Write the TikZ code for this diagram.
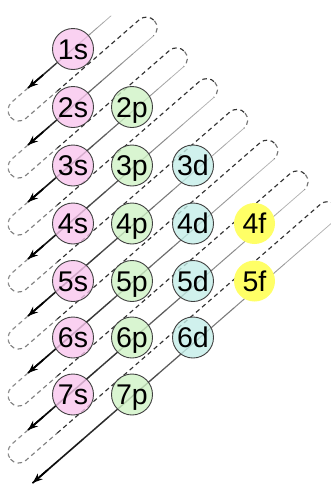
\documentclass[tikz,border=0pt]{standalone}
\usepackage{fontspec}
\setmainfont{Liberation Sans}
\usetikzlibrary{arrows.meta}
\definecolor{sfill}{RGB}{249,198,238}
\definecolor{pfill}{RGB}{208,243,198}
\definecolor{dfill}{RGB}{196,238,232}
\definecolor{ffill}{RGB}{255,255,102}
\begin{document}
\begin{tikzpicture}[x=1pt,y=-1pt,
  orb/.style={circle, draw=black!75, line width=0.9pt, minimum size=41pt, inner sep=0pt,
    font=\fontsize{28.5}{28.5}\selectfont, text height=20.4pt, text depth=0pt, text opacity=1},
  sorb/.style={orb, fill=sfill, fill opacity=0.8},
  porb/.style={orb, fill=pfill, fill opacity=0.8},
  dorb/.style={orb, fill=dfill, fill opacity=0.8},
  forb/.style={orb, draw=none, fill=ffill},
  dashline/.style={line width=1.15pt, dash pattern=on 4.5pt off 3.5pt, rounded corners=10.75pt},
  tiparrow/.style={black, line width=1.7pt, -{Stealth[length=10pt,width=7.5pt]}}
]
\useasboundingbox (0,0) rectangle (331,485);

% diagonal arrows and dashed return paths
\foreach \j in {1,...,8}{
  \pgfmathsetmacro\stop{\j==1 ? 110 : 166.2+40*(\j-2)}
  \pgfmathsetmacro\send{\j==8 ? 6.3 : 0}
  \pgfmathsetmacro\S{128.8+40*(\j-1)}
  \begin{scope}[shift={(28,{88+57*(\j-1)})}, x={(0.7547pt,0.6561pt)}, y={(0.6561pt,-0.7547pt)}]
    \coordinate (top\j) at (\stop,0);
    \coordinate (tip\j) at (\send,0);
    \foreach \i in {0,...,11}{
      \pgfmathsetmacro\sa{\stop-(\stop-\send)*\i/12}
      \pgfmathsetmacro\sb{\stop-(\stop-\send)*(\i+1)/12}
      \pgfmathtruncatemacro\c{28+72*((\i+0.5)/12)^1.1}
      \pgfmathsetmacro\w{0.75+0.95*\i/11}
      \draw[black!\c, line width=\w pt, line cap=round] (\sa,0) -- (\sb,0);
    }
    \draw[tiparrow] ({\send+20},0) -- (tip\j);
    \ifnum\j<8
      \draw[dashline, black!45] (0,0) -- (-32.35,0) -- (-32.35,10.75);
      \draw[dashline, black!50] (-32.35,10.75) -- (-32.35,21.5) -- (20,21.5);
      \draw[dashline, black!80] (20,21.5) -- ({\S+10.75},21.5) -- ({\S+10.75},32.25);
      \draw[dashline, black!55] ({\S+10.75},32.25) -- ({\S+10.75},43) -- (\S,43);
    \fi
  \end{scope}
}

% orbitals
\node[sorb] (s1) at (73,49) {1s};
\node[sorb] (s2) at (73,107) {2s};
\node[sorb] (s3) at (73,165.5) {3s};
\node[sorb] (s4) at (73,223.5) {4s};
\node[sorb] (s5) at (73,281) {5s};
\node[sorb] (s6) at (73,337.5) {6s};
\node[sorb] (s7) at (73,394.5) {7s};
\node[porb] (p2) at (132,107) {2p};
\node[porb] (p3) at (132,165.5) {3p};
\node[porb] (p4) at (132,223.5) {4p};
\node[porb] (p5) at (132,281) {5p};
\node[porb] (p6) at (132,337.5) {6p};
\node[porb] (p7) at (132,394.5) {7p};
\node[dorb] (d3) at (193,165.5) {3d};
\node[dorb] (d4) at (193,223.5) {4d};
\node[dorb] (d5) at (193,281) {5d};
\node[dorb] (d6) at (193,337.5) {6d};
\node[forb] (f4) at (254.5,223.5) {4f};
\node[forb] (f5) at (254.5,281) {5f};
\end{tikzpicture}
\end{document}
